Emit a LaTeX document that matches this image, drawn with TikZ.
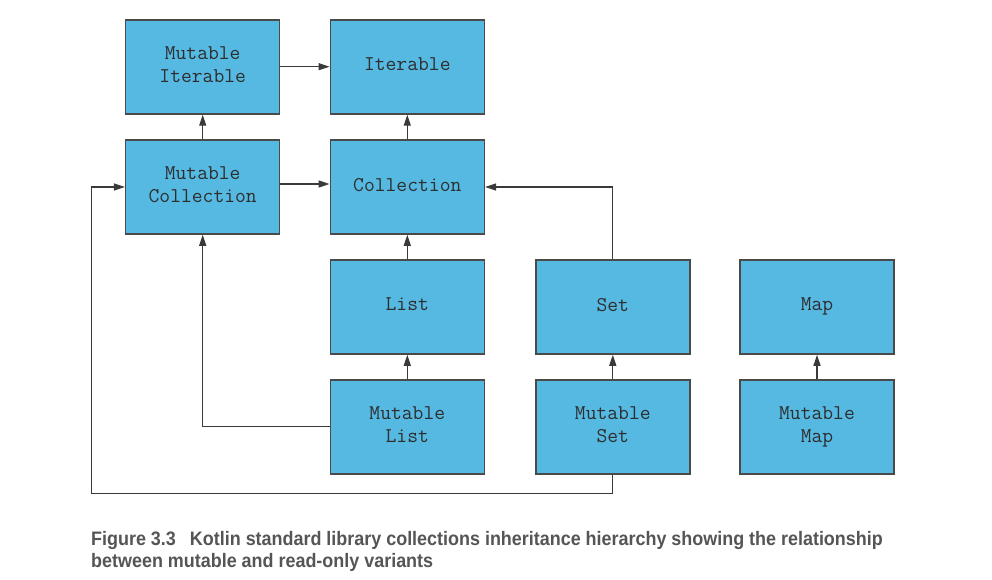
\documentclass[tikz,border=0pt]{standalone}
\usepackage{fontspec}
\newfontfamily\capfont[FakeStretch=0.92]{Liberation Sans}
\usetikzlibrary{arrows.meta}
\definecolor{boxfill}{HTML}{56B9E2}
\definecolor{boxline}{HTML}{4A4A4A}
\definecolor{boxtext}{HTML}{2E2E2E}
\definecolor{wire}{HTML}{3A3A3A}
\definecolor{captext}{HTML}{555555}
\newcommand\dpfix{\rule[-5pt]{0pt}{1pt}}
\tikzset{
  kbox/.style={draw=boxline, line width=1.5pt, fill=boxfill, minimum width=154pt, minimum height=94pt,
    inner sep=0pt, align=center, text=boxtext, font=\ttfamily\fontsize{21}{22.5}\selectfont},
  arr/.style={draw=wire, line width=1.3pt, -{Triangle[length=11pt,width=7pt]}},
}
\begin{document}
\begin{tikzpicture}[x=1pt,y=-1pt]
\useasboundingbox (0,0) rectangle (992,580);
\node[kbox] (MutIter) at (202.7,67) {Mutable\\Iterable\dpfix};
\node[kbox] (Iter) at (407.3,67) {Iterable\dpfix};
\node[kbox] (MutColl) at (202.7,187) {Mutable\\Collection\dpfix};
\node[kbox] (Coll) at (407.3,187) {Collection\dpfix};
\node[kbox] (List) at (407.3,307) {List\dpfix};
\node[kbox] (Set) at (612.8,307) {Set\dpfix};
\node[kbox] (Map) at (817,307) {Map\dpfix};
\node[kbox] (MutList) at (407.3,427) {Mutable\\List\dpfix};
\node[kbox] (MutSet) at (612.8,427) {Mutable\\Set\dpfix};
\node[kbox] (MutMap) at (817,427) {Mutable\\Map\dpfix};
\coordinate (lft) at (91.7,493.5);
\draw[arr] ([yshift=0.3pt]MutIter.east) -- ([yshift=0.3pt]MutIter.east -| Iter.west);
\draw[arr] (MutColl.north) -- (MutIter.south);
\draw[arr] (Coll.north) -- (Iter.south);
\draw[arr] ([yshift=3pt]MutColl.east) -- ([yshift=3pt]MutColl.east -| Coll.west);
\draw[arr] (List.north) -- (Coll.south);
\draw[arr] (MutList.north) -- (List.south);
\draw[arr] (MutSet.north) -- (Set.south);
\draw[arr] (MutMap.north) -- (Map.south);
\draw[arr] (Set.north) |- (Coll.east);
\draw[arr] ([yshift=0.3pt]MutList.west) -| (MutColl.south);
\draw[arr] (MutSet.south) |- (lft) |- (MutColl.west);
\node[anchor=base west, inner sep=0pt, text=captext, font=\capfont\bfseries\fontsize{19.5}{23}\selectfont] (cap1) at (91,545.5)
  {Figure 3.3\hspace{14pt}Kotlin standard library collections inheritance hierarchy showing the relationship};
\node[anchor=base west, inner sep=0pt, text=captext, font=\capfont\bfseries\fontsize{19.5}{23}\selectfont] (cap2) at (91,567.5)
  {between mutable and read-only variants};
\end{tikzpicture}
\end{document}
